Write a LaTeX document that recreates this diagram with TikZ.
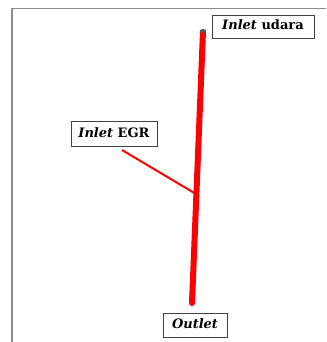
\documentclass[tikz,border=0pt]{standalone}
\usepackage{fontspec}
\setmainfont{DejaVu Serif}
\begin{document}
\begin{tikzpicture}[x=1pt,y=-1pt,
  lbl/.style={draw=black!75, line width=0.9pt, fill=white, inner sep=0pt, font=\fontsize{13}{15}\selectfont\bfseries, text height=9.5pt, text depth=2.5pt},
  frame/.style={draw=black!45, line width=1.4pt},
  pipe/.style={draw=red, line width=6pt},
  thin/.style={draw=red, line width=2pt}]
\useasboundingbox (0,0) rectangle (326,342);
\draw[frame] (12,342) -- (12,8.5) -- (326,8.5);
\coordinate (ptop) at (203,31);
\coordinate (pbot) at (192,303);
\coordinate (junc) at (196,194);
\coordinate (egrend) at (122,150);
\draw[pipe] (ptop) -- (pbot);
\fill[red] (pbot) circle (3pt);
\fill[black!65] (ptop) ellipse (3.2pt and 2pt);
\draw[thin] (egrend) -- (junc);
\node[lbl, minimum width=102pt, minimum height=23pt] (udara) at (263,26.5) {\textit{Inlet} udara};
\node[lbl, minimum width=86pt, minimum height=25pt] (egr) at (114,133.5) {\textit{Inlet} EGR};
\node[lbl, minimum width=64pt, minimum height=24pt] (out) at (195,325) {\textit{Outlet}};
\end{tikzpicture}
\end{document}
